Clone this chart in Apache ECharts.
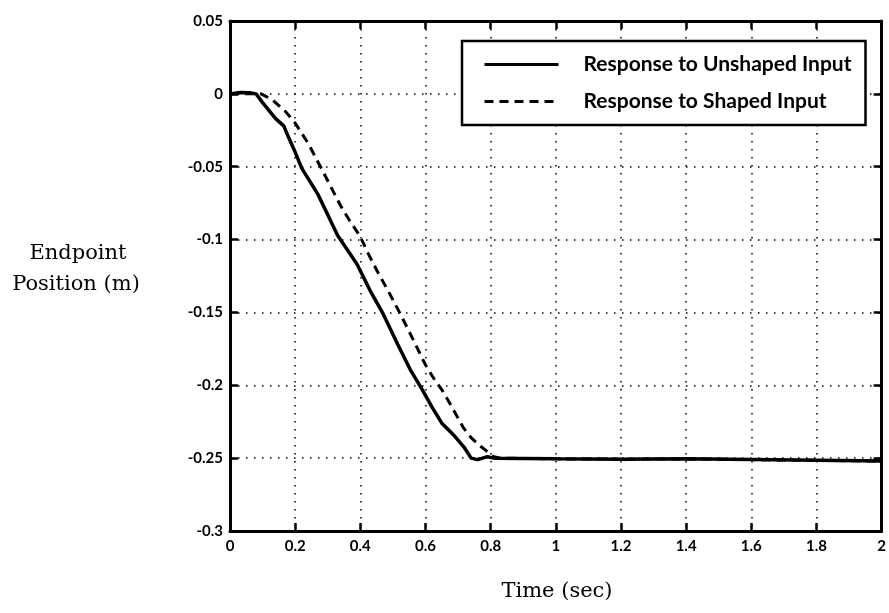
<!DOCTYPE html>
<html>
<head>
<meta charset="utf-8">
<script src="https://cdn.jsdelivr.net/npm/echarts@6/dist/echarts.min.js"></script>
<style>
html,body{margin:0;padding:0;background:#fff;}
#chart{width:889px;height:613px;}
</style>
</head>
<body>
<div id="chart"></div>
<script>
// ---- data ----
const unshapedT = [0, 0.03, 0.06, 0.08, 0.1, 0.14, 0.165, 0.18, 0.2, 0.22, 0.27, 0.3, 0.33, 0.39, 0.43, 0.47, 0.515, 0.555, 0.59, 0.62, 0.65, 0.69, 0.72, 0.74, 0.76, 0.79, 0.81, 0.9, 1.0, 1.2, 1.4, 1.6, 1.8, 2.0];
const unshapedV = [0, 0.001, 0.0008, 0, -0.006, -0.017, -0.022, -0.03, -0.04, -0.051, -0.069, -0.083, -0.097, -0.117, -0.135, -0.151, -0.172, -0.19, -0.203, -0.215, -0.226, -0.235, -0.243, -0.25, -0.251, -0.249, -0.25, -0.2502, -0.2505, -0.2507, -0.2505, -0.251, -0.2515, -0.252];

const shapedT = [0, 0.06, 0.095, 0.13, 0.17, 0.2, 0.24, 0.28, 0.31, 0.34, 0.37, 0.4, 0.425, 0.455, 0.485, 0.525, 0.565, 0.6, 0.63, 0.65, 0.675, 0.696, 0.716, 0.74, 0.77, 0.795, 0.81, 0.83, 0.9, 1.0, 1.2, 1.4, 1.6, 1.8, 2.0];
const shapedV = [0, 0, 0, -0.004, -0.012, -0.02, -0.034, -0.051, -0.064, -0.077, -0.088, -0.098, -0.11, -0.123, -0.135, -0.152, -0.17, -0.186, -0.197, -0.203, -0.2125, -0.221, -0.229, -0.236, -0.242, -0.2465, -0.249, -0.25, -0.2502, -0.2505, -0.2507, -0.2505, -0.251, -0.2515, -0.252];

const xTickLabels = ['0', '0.2', '0.4', '0.6', '0.8', '1', '1.2', '1.4', '1.6', '1.8', '2'];
const yTickLabels = ['-0.3', '-0.25', '-0.2', '-0.15', '-0.1', '-0.05', '0', '0.05'];

const seriesNames = ['Response to Unshaped Input', 'Response to Shaped Input'];
const xTitle = 'Time (sec)';
const yTitle = ['Endpoint', 'Position (m)'];

// ---- chart ----
const chart = echarts.init(document.getElementById('chart'), null, {renderer: 'canvas'});
const pairs = (t, v) => t.map((x, i) => [x, v[i]]);
const tickFont = {fontFamily: 'Lato', fontWeight: 'bold', fontSize: 15, color: '#000'};
const gridLine = {show: true, lineStyle: {color: '#000', width: 1.5, type: [1.5, 6.5]}};
const axisLine = {show: true, onZero: false, lineStyle: {color: '#000', width: 3}};
const tickIn = {show: true, inside: true, length: 8, lineStyle: {color: '#000', width: 2.5}};
const titleStyle = {fontFamily: 'DejaVu Serif', fontSize: 21, fill: '#000', align: 'center', verticalAlign: 'middle'};

chart.setOption({
  animation: false,
  backgroundColor: '#fff',
  grid: {left: 230, top: 21, width: 658, height: 510, containLabel: false},
  xAxis: [
    {type: 'value', min: 0, max: 2, interval: 0.2, position: 'bottom',
     axisLine: axisLine, axisTick: tickIn, splitLine: gridLine,
     axisLabel: Object.assign({margin: 8, formatter: v => xTickLabels[Math.round(v / 0.2)]}, tickFont)},
    {type: 'value', min: 0, max: 2, interval: 0.2, position: 'top',
     axisLine: axisLine, axisTick: tickIn, splitLine: {show: false}, axisLabel: {show: false}}
  ],
  yAxis: [
    {type: 'value', min: -0.3, max: 0.05, interval: 0.05, position: 'left',
     axisLine: axisLine, axisTick: tickIn, splitLine: gridLine,
     axisLabel: Object.assign({margin: 7, formatter: v => yTickLabels[Math.round((v + 0.3) / 0.05)]}, tickFont)},
    {type: 'value', min: -0.3, max: 0.05, interval: 0.05, position: 'right',
     axisLine: axisLine, axisTick: tickIn, splitLine: {show: false}, axisLabel: {show: false}}
  ],
  legend: {
    show: true, orient: 'vertical', left: 462, top: 41,
    backgroundColor: '#fff', borderColor: '#000', borderWidth: 2.5,
    padding: [13, 14, 13, 21],
    itemWidth: 74, itemHeight: 14, itemGap: 16,
    itemStyle: {opacity: 0},
    lineStyle: {width: 3},
    textStyle: {fontFamily: 'Lato', fontWeight: 'bold', fontSize: 21, color: '#000', padding: [0, 0, 0, 20]},
    data: seriesNames
  },
  graphic: [
    {type: 'text', style: Object.assign({text: yTitle[0], x: 78, y: 254}, titleStyle)},
    {type: 'text', style: Object.assign({text: yTitle[1], x: 76, y: 285}, titleStyle)},
    {type: 'text', style: Object.assign({text: xTitle, x: 557, y: 592}, titleStyle)}
  ],
  series: [
    {name: seriesNames[0], type: 'line', showSymbol: false, symbol: 'none', data: pairs(unshapedT, unshapedV),
     lineStyle: {color: '#000', width: 3.5, type: 'solid'}, itemStyle: {color: '#000'}, z: 3},
    {name: seriesNames[1], type: 'line', showSymbol: false, symbol: 'none', data: pairs(shapedT, shapedV),
     lineStyle: {color: '#000', width: 3, type: [9, 6]}, itemStyle: {color: '#000'}, z: 2}
  ]
});
</script>
</body>
</html>
